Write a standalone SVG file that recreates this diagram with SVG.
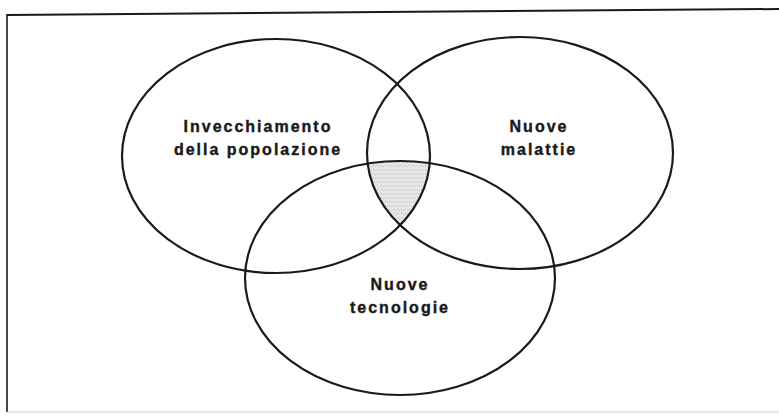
<svg xmlns="http://www.w3.org/2000/svg" width="779" height="417" viewBox="0 0 779 417">
<style>
.c{fill:none;stroke:#1a1a1a;stroke-width:2.2}
.t{font-family:"Liberation Sans",Arial,sans-serif;font-weight:bold;font-size:16px;letter-spacing:2px;fill:#1a1a1a;stroke:#1a1a1a;stroke-width:0.4;text-anchor:middle}
</style>
<defs>
<clipPath id="cl"><ellipse cx="276" cy="156" rx="154" ry="117"/></clipPath>
<clipPath id="cr"><ellipse cx="520" cy="153" rx="153" ry="116"/></clipPath>
<pattern id="dots" width="4" height="4" patternUnits="userSpaceOnUse">
<rect width="4" height="4" fill="#e6e6e6"/>
<rect x="1" y="1" width="1" height="1" fill="#b5b5b5"/>
<rect x="3" y="2" width="1" height="1" fill="#c8c8c8"/>
</pattern>
</defs>
<rect width="779" height="417" fill="#ffffff"/>
<g id="frame">
<line x1="7" y1="15" x2="779" y2="9" stroke="#1a1a1a" stroke-width="2"/>
<line x1="7" y1="14" x2="7" y2="412" stroke="#1a1a1a" stroke-width="1.6"/>
<line x1="7" y1="412" x2="779" y2="412" stroke="#cfcfcf" stroke-width="1"/>
</g>
<g id="shade">
<g clip-path="url(#cl)"><g clip-path="url(#cr)"><ellipse cx="400" cy="278" rx="155" ry="117" fill="url(#dots)"/></g></g>
</g>
<g id="node-invecchiamento">
<ellipse class="c" cx="276" cy="156" rx="154" ry="117"/>
<text class="t" x="258" y="132">Invecchiamento</text>
<text class="t" x="258" y="155">della popolazione</text>
</g>
<g id="node-malattie">
<ellipse class="c" cx="520" cy="153" rx="153" ry="116"/>
<text class="t" x="539" y="132">Nuove</text>
<text class="t" x="539" y="155">malattie</text>
</g>
<g id="node-tecnologie">
<ellipse class="c" cx="400" cy="278" rx="155" ry="117"/>
<text class="t" x="400" y="290">Nuove</text>
<text class="t" x="400" y="313">tecnologie</text>
</g>
<g id="connectors"/>
</svg>
